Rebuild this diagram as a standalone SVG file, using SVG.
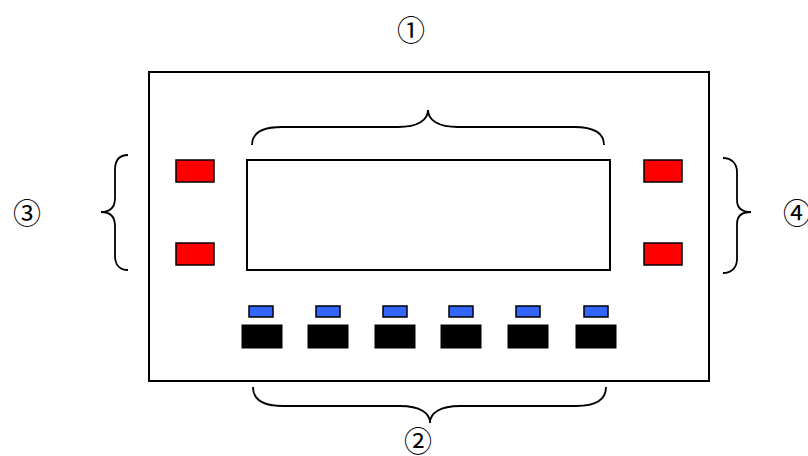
<svg xmlns="http://www.w3.org/2000/svg" width="808" height="456" viewBox="0 0 808 456">
<style>
.frame{fill:#fff;stroke:#000;stroke-width:2}
.screen{fill:#fff;stroke:#000;stroke-width:2}
.red{fill:#ff0000;stroke:#000;stroke-width:1.5}
.blue{fill:#3366ff;stroke:#000;stroke-width:1.5}
.blk{fill:#000;stroke:#000;stroke-width:1}
.brace{fill:none;stroke:#000;stroke-width:1.8}
.lbl{font-family:"Noto Sans CJK JP",sans-serif;font-size:28px;fill:#000;text-anchor:middle}
</style>
<rect width="808" height="456" fill="#fff"/>
<g id="panel"><rect class="frame" x="149" y="72" width="560" height="309"/></g>
<g id="screen"><rect class="screen" x="247" y="160" width="363" height="110"/></g>
<g id="red-buttons">
<rect class="red" x="176" y="160" width="38" height="22"/>
<rect class="red" x="176" y="243" width="38" height="22"/>
<rect class="red" x="644" y="160" width="38" height="22"/>
<rect class="red" x="644" y="243" width="38" height="22"/>
</g>
<g id="blue-leds">
<rect class="blue" x="249" y="306" width="24" height="11"/>
<rect class="blue" x="316" y="306" width="24" height="11"/>
<rect class="blue" x="383" y="306" width="24" height="11"/>
<rect class="blue" x="449" y="306" width="24" height="11"/>
<rect class="blue" x="516" y="306" width="24" height="11"/>
<rect class="blue" x="584" y="306" width="24" height="11"/>
</g>
<g id="black-keys">
<rect class="blk" x="242" y="325" width="40" height="23"/>
<rect class="blk" x="308" y="325" width="40" height="23"/>
<rect class="blk" x="375" y="325" width="40" height="23"/>
<rect class="blk" x="441" y="325" width="40" height="23"/>
<rect class="blk" x="508" y="325" width="40" height="23"/>
<rect class="blk" x="576" y="325" width="40" height="23"/>
</g>
<g id="connectors">
<path class="brace" d="M252,145 C252,133 262,127 282,127 L398,127 C418,127 428,120 428,110 C428,120 438,127 458,127 L574,127 C594,127 604,133 604,145"/>
<path class="brace" d="M253,387 C253,399 263,406 283,406 L400,406 C420,406 430,413 430,423 C430,413 440,406 460,406 L576,406 C596,406 606,399 606,387"/>
<path class="brace" d="M128,155 C120,155 115,160 115,170 L115,198 C115,207 110,212 101,212 C110,212 115,217 115,226 L115,256 C115,265 120,270 128,270"/>
<path class="brace" d="M723,158 C731,158 737,163 737,172 L737,200 C737,208 742,212 751,212 C742,212 737,216 737,224 L737,259 C737,268 731,273 723,273"/>
</g>
<g id="labels">
<text class="lbl" x="411" y="41">①</text>
<text class="lbl" x="418" y="452">②</text>
<text class="lbl" x="27" y="224">③</text>
<text class="lbl" x="797" y="224">④</text>
</g>
</svg>
